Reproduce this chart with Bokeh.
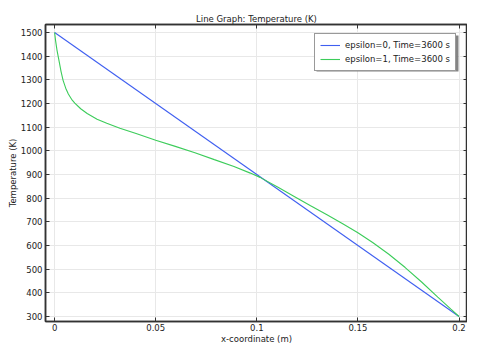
from bokeh.plotting import figure
from bokeh.models import Range1d, LinearAxis, FixedTicker, Legend, LegendItem, BoxAnnotation
from bokeh.embed import file_html
from bokeh.resources import INLINE

# ---- data ----
x_ticks = [0, 0.05, 0.1, 0.15, 0.2]
x_tick_labels = ["0", "0.05", "0.1", "0.15", "0.2"]
y_ticks = [300, 400, 500, 600, 700, 800, 900, 1000, 1100, 1200, 1300, 1400, 1500]

x_eps0 = [0.0, 0.2]
T_eps0 = [1500, 300]

x_eps1 = [0.0, 0.0005, 0.0012, 0.0022, 0.0032, 0.0042, 0.0055, 0.0068, 0.0084,
          0.0100, 0.0129, 0.0161, 0.021, 0.0258, 0.0323, 0.0403, 0.050, 0.0597,
          0.0694, 0.079, 0.0887, 0.0968, 0.1016, 0.1105, 0.1185, 0.1266, 0.1347,
          0.1427, 0.15, 0.1573, 0.1653, 0.1734, 0.1815, 0.1895, 0.196, 0.2]
T_eps1 = [1500, 1465, 1425, 1380, 1335, 1298, 1265, 1240, 1218,
          1202, 1178, 1158, 1134, 1117, 1096, 1073, 1045, 1019,
          992, 963, 934, 906, 888, 846, 807, 768, 730,
          691, 654, 613, 563, 507, 446, 382, 331, 300]

title_text = "Line Graph: Temperature (K)"
x_label = "x-coordinate (m)"
y_label = "Temperature (K)"
labels = ["epsilon=0, Time=3600 s", "epsilon=1, Time=3600 s"]

FONT = "DejaVu Sans"
FS = "8.5px"
DARK = "#333333"

p = figure(width=467, height=346, output_backend="svg", toolbar_location=None,
           x_range=Range1d(-0.0045, 0.2042), y_range=Range1d(279, 1534),
           min_border_left=45, min_border_right=0, min_border_top=24, min_border_bottom=22,
           x_axis_label=x_label, y_axis_label=y_label)

p.title.text = title_text
p.title.align = "center"
p.title.text_font = FONT
p.title.text_font_size = FS
p.title.text_font_style = "normal"
p.title.text_color = "#222222"
p.title.standoff = 2

p.outline_line_color = DARK
p.outline_line_width = 1.5

def style_axis(ax):
    ax.axis_line_color = DARK
    ax.axis_line_width = 1.5
    ax.major_tick_in = 4
    ax.major_tick_out = 0
    ax.major_tick_line_color = DARK
    ax.minor_tick_in = 4
    ax.minor_tick_out = 0
    ax.minor_tick_line_color = DARK
    ax.major_label_text_font = FONT
    ax.major_label_text_font_size = FS
    ax.major_label_text_color = "#222222"
    ax.major_label_standoff = 3
    ax.axis_label_text_font = FONT
    ax.axis_label_text_font_size = FS
    ax.axis_label_text_font_style = "normal"
    ax.axis_label_text_color = "#222222"
    ax.axis_label_standoff = 0

xt = FixedTicker(ticks=x_ticks, minor_ticks=[])
yt = FixedTicker(ticks=y_ticks, minor_ticks=[])
p.xaxis.ticker = xt
p.yaxis.ticker = yt
p.xaxis.major_label_overrides = {t: l for t, l in zip(x_ticks, x_tick_labels)}
for ax in p.xaxis + p.yaxis:
    style_axis(ax)
p.xaxis.major_label_standoff = 2

# top and right axes: tick marks only (drawn as minor ticks, so no labels)
top = LinearAxis(ticker=FixedTicker(ticks=[], minor_ticks=x_ticks))
style_axis(top)
p.add_layout(top, "above")
right = LinearAxis(ticker=FixedTicker(ticks=[], minor_ticks=y_ticks))
style_axis(right)
p.add_layout(right, "right")

p.xgrid.ticker = xt
p.ygrid.ticker = yt
p.grid.grid_line_color = "#e8e8e8"
p.grid.grid_line_width = 1

r0 = p.line(x_eps0, T_eps0, line_color="#3f5ff0", line_width=1.1)
r1 = p.line(x_eps1, T_eps1, line_color="#3ccc5a", line_width=1.1)

shadow = BoxAnnotation(left=316, right=458, top=35, bottom=71,
                       left_units="canvas", right_units="canvas",
                       top_units="canvas", bottom_units="canvas",
                       fill_color="#777777", fill_alpha=0.9, line_color=None)
p.add_layout(shadow)

legend = Legend(items=[LegendItem(label=labels[0], renderers=[r0]),
                       LegendItem(label=labels[1], renderers=[r1])],
                location=(269, 250), orientation="vertical")
legend.label_text_font = FONT
legend.label_text_font_size = FS
legend.label_text_color = "#222222"
legend.border_line_color = DARK
legend.border_line_width = 1.2
legend.background_fill_color = "white"
legend.background_fill_alpha = 1.0
legend.glyph_width = 20
legend.glyph_height = 12
legend.label_height = 12
legend.label_standoff = 5
legend.spacing = 2
legend.padding = 5
legend.margin = 0
p.add_layout(legend, "center")

open("out.html", "w").write(file_html(p, INLINE))
